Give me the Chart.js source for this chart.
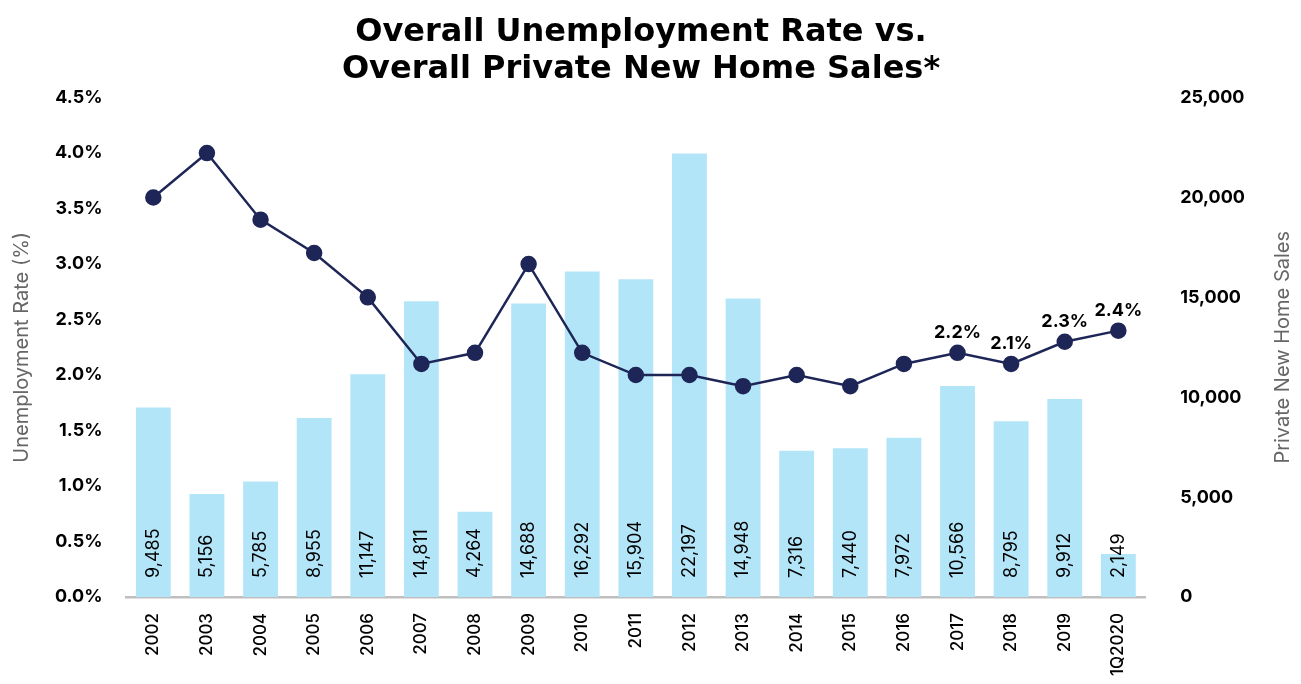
<!DOCTYPE html>
<html>
<head>
<meta charset="utf-8">
<script src="https://cdn.jsdelivr.net/npm/chart.js@4"></script>
<style>
  html, body { margin: 0; padding: 0; background: #fff; }
  #wrap { width: 1301px; height: 684px; }
</style>
</head>
<body>
<div id="wrap"><canvas id="chart"></canvas></div>
<script>
const years = ["2002", "2003", "2004", "2005", "2006", "2007", "2008", "2009", "2010", "2011",
               "2012", "2013", "2014", "2015", "2016", "2017", "2018", "2019", "1Q2020"]
const homeSales = [9485, 5156, 5785, 8955, 11147, 14811, 4264, 14688, 16292, 15904,
                   22197, 14948, 7316, 7440, 7972, 10566, 8795, 9912, 2149]
const unemployment = [3.6, 4.0, 3.4, 3.1, 2.7, 2.1, 2.2, 3.0, 2.2, 2.0,
                      2.0, 1.9, 2.0, 1.9, 2.1, 2.2, 2.1, 2.3, 2.4]
const labelledPoints = [15, 16, 17, 18]

const fontFamily = "Inter, 'Noto Sans', sans-serif"
const titleFont = "'DejaVu Sans', sans-serif"
const navy = "#1E2657"
const barBlue = "#B3E5F8"

const labelsPlugin = {
  id: "valueLabels",
  afterDatasetsDraw(chart) {
    const ctx = chart.ctx
    ctx.save()

    // bar values, rotated, just above the baseline
    const bars = chart.getDatasetMeta(1)
    ctx.font = `400 18px ${fontFamily}`
    ctx.fillStyle = "#000"
    ctx.textAlign = "left"
    ctx.textBaseline = "middle"
    bars.data.forEach((bar, i) => {
      ctx.save()
      ctx.translate(bar.x, bar.base - 19)
      ctx.rotate(-Math.PI / 2)
      ctx.fillText(homeSales[i].toLocaleString("en-US"), 0, 0)
      ctx.restore()
    })

    // only the last few points get a label
    const line = chart.getDatasetMeta(0)
    ctx.font = `700 18px ${fontFamily}`
    ctx.textAlign = "center"
    ctx.textBaseline = "bottom"
    labelledPoints.forEach(i => {
      const p = line.data[i]
      ctx.fillText(unemployment[i].toFixed(1) + "%", p.x, p.y - 11)
    })

    // right axis title, reading bottom to top
    const y1 = chart.scales.y1
    ctx.font = `400 20px ${fontFamily}`
    ctx.fillStyle = "#666"
    ctx.textAlign = "center"
    ctx.textBaseline = "middle"
    ctx.translate(1283, (y1.top + y1.bottom) / 2)
    ctx.rotate(-Math.PI / 2)
    ctx.fillText("Private New Home Sales", 0, 0)
    ctx.restore()
  }
}

new Chart(document.getElementById("chart"), {
  data: {
    labels: years,
    datasets: [
      {
        type: "line",
        label: "Unemployment Rate",
        data: unemployment,
        yAxisID: "y",
        borderColor: navy,
        backgroundColor: navy,
        borderWidth: 2.5,
        pointRadius: 7,
        pointBackgroundColor: navy,
        pointBorderColor: navy,
        tension: 0,
        order: 0
      },
      {
        type: "bar",
        label: "Private New Home Sales",
        data: homeSales,
        yAxisID: "y1",
        backgroundColor: barBlue,
        categoryPercentage: 1,
        barPercentage: 0.65,
        order: 1
      }
    ]
  },
  options: {
    responsive: true,
    maintainAspectRatio: false,
    animation: false,
    layout: { padding: { top: 14, right: 29, left: 10, bottom: 0 } },
    plugins: {
      legend: { display: false },
      tooltip: { enabled: false },
      title: {
        display: true,
        text: ["Overall Unemployment Rate vs.", "Overall Private New Home Sales*"],
        color: "#000",
        font: { family: titleFont, size: 32, weight: "bold", lineHeight: 1.15 },
        padding: { top: 0, bottom: 10 }
      }
    },
    scales: {
      x: {
        grid: { display: false },
        border: { display: true, color: "#BFBFBF", width: 2.5 },
        ticks: {
          color: "#000",
          font: { family: fontFamily, size: 17, weight: "500" },
          minRotation: 90,
          maxRotation: 90,
          padding: 8,
          autoSkip: false
        }
      },
      y: {
        position: "left",
        min: 0,
        max: 4.5,
        grid: { display: false },
        border: { display: false },
        ticks: {
          stepSize: 0.5,
          color: "#000",
          padding: 16,
          font: { family: fontFamily, size: 18, weight: "700" },
          callback: v => v.toFixed(1) + "%"
        },
        title: {
          display: true,
          text: "Unemployment Rate (%)",
          color: "#666",
          font: { family: fontFamily, size: 20, weight: "400" },
          padding: { top: 0, bottom: 5 }
        }
      },
      y1: {
        position: "right",
        min: 0,
        max: 25000,
        grid: { display: false },
        border: { display: false },
        ticks: {
          stepSize: 5000,
          color: "#000",
          padding: 27,
          font: { family: fontFamily, size: 18, weight: "700" },
          callback: v => v.toLocaleString("en-US")
        }
      }
    }
  },
  plugins: [labelsPlugin]
})
</script>
</body>
</html>
